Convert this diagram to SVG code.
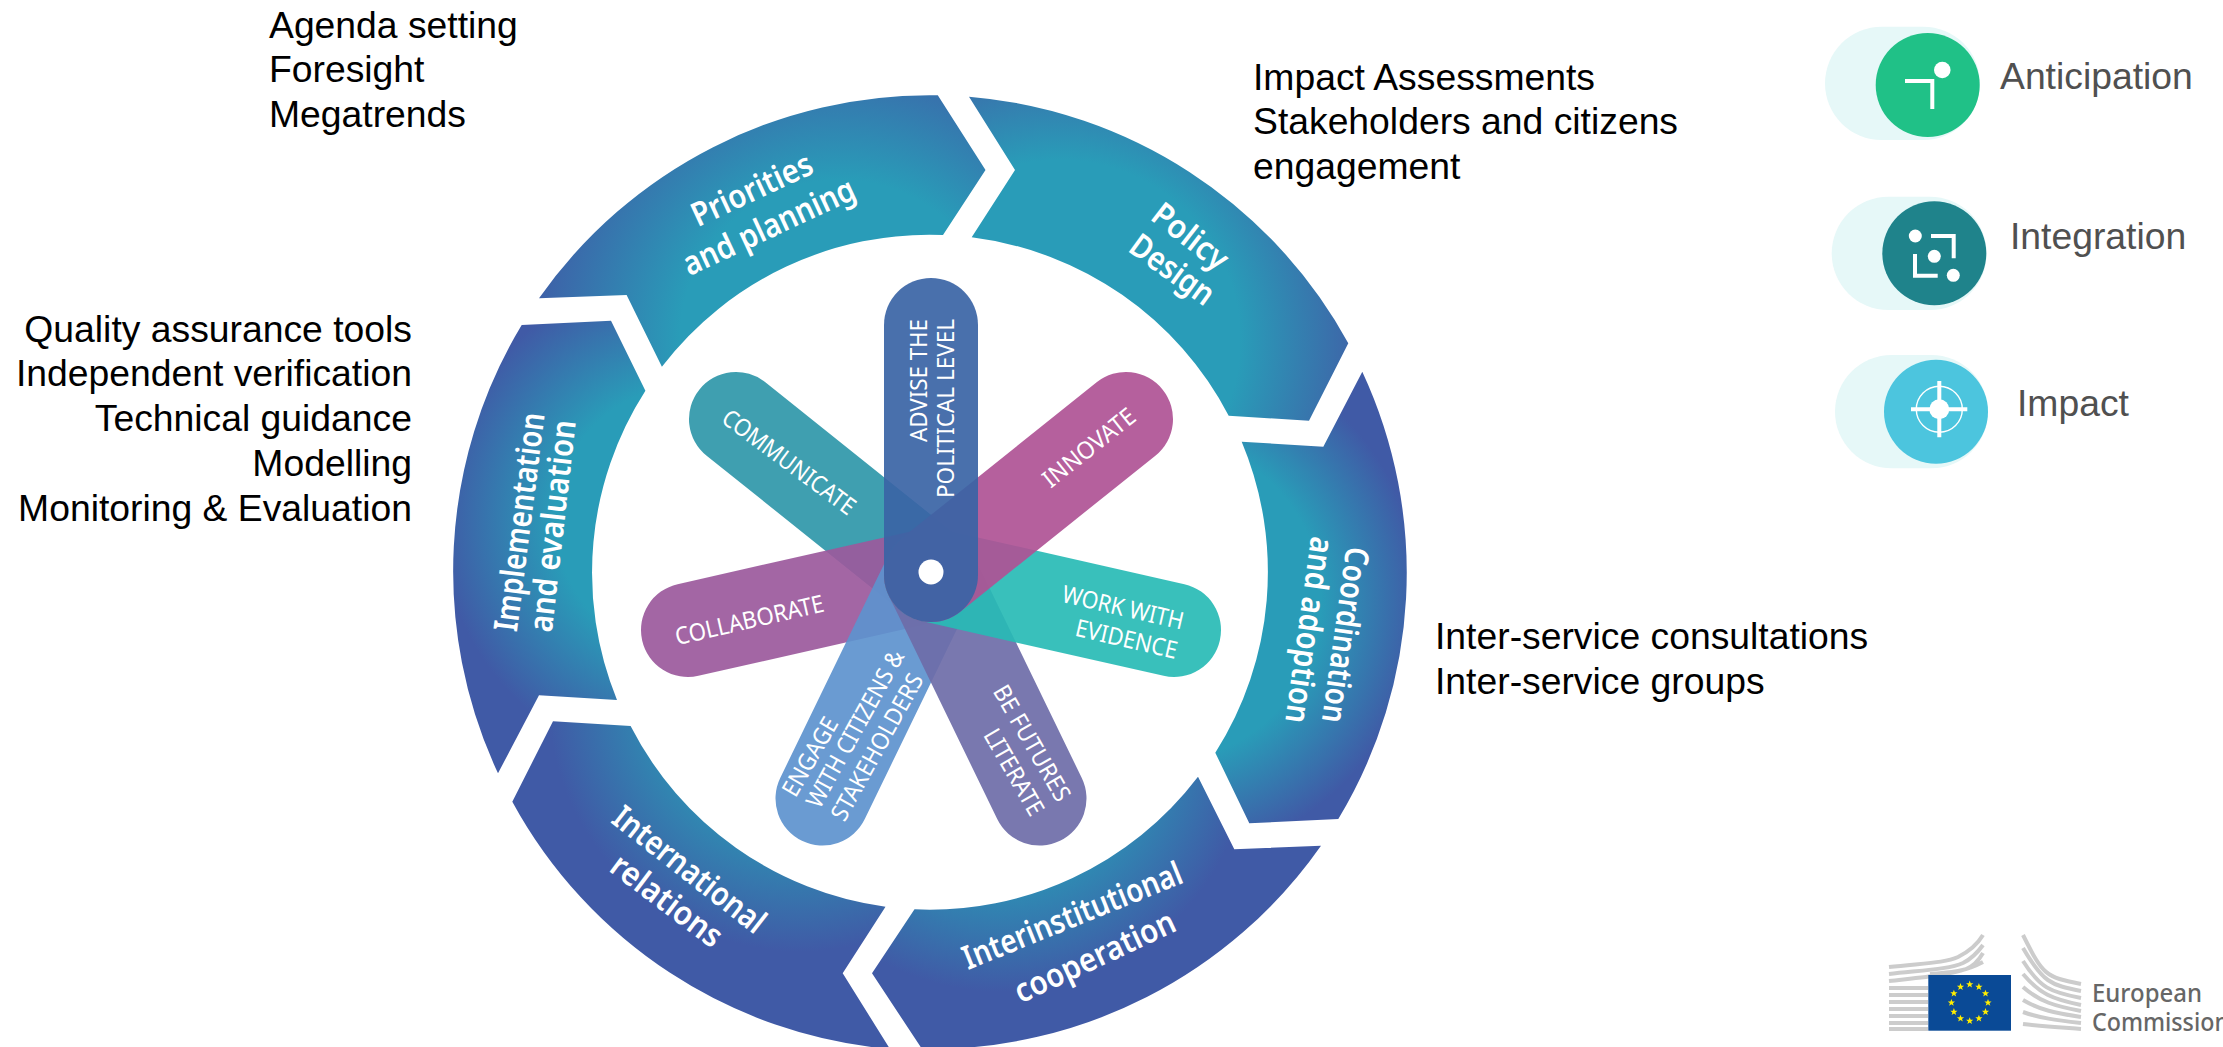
<svg xmlns="http://www.w3.org/2000/svg" xmlns:xlink="http://www.w3.org/1999/xlink" width="2223" height="1047" viewBox="0 0 2223 1047">
<style>
text{font-family:"Liberation Sans",Arial,sans-serif}
.note{font-size:37.3px;fill:#000}
.legend{font-size:37.3px;fill:#505050}
.ring{font-family:"Noto Sans",sans-serif;font-size:33px;font-weight:600;fill:#fff;text-anchor:middle}
.pet{font-family:"Noto Sans",sans-serif;font-size:24px;fill:#fff;text-anchor:middle}
.petal{fill:none;stroke-width:94;stroke-linecap:round;opacity:.92}
.pill{fill:#e6f8f8}
.ico{fill:none;stroke:#fff;stroke-width:4}
.dot{fill:#fff}
.st{fill:none;stroke:#cccccc;stroke-width:4}
.logo{font-family:"Noto Sans",sans-serif;font-size:24.5px;font-weight:500;fill:#666}
.star{fill:#ffed00}
</style>
<defs>
<radialGradient id="gPri" gradientUnits="userSpaceOnUse" cx="840" cy="340" r="320"><stop offset=".5" stop-color="#299cb8"/><stop offset="1" stop-color="#405aa6"/></radialGradient>
<radialGradient id="gPol" gradientUnits="userSpaceOnUse" cx="1060" cy="340" r="300"><stop offset=".6" stop-color="#299cb8"/><stop offset="1" stop-color="#3f62a7"/></radialGradient>
<radialGradient id="gCoo" gradientUnits="userSpaceOnUse" cx="1160" cy="600" r="260"><stop offset=".62" stop-color="#299cb8"/><stop offset="1" stop-color="#405aa6"/></radialGradient>
<radialGradient id="gInt" gradientUnits="userSpaceOnUse" cx="1000" cy="740" r="340"><stop offset=".38" stop-color="#2b95b6"/><stop offset=".74" stop-color="#405aa6"/></radialGradient>
<radialGradient id="gRel" gradientUnits="userSpaceOnUse" cx="800" cy="700" r="340"><stop offset=".4" stop-color="#2e8fb3"/><stop offset=".74" stop-color="#405aa6"/></radialGradient>
<radialGradient id="gImp" gradientUnits="userSpaceOnUse" cx="690" cy="520" r="320"><stop offset=".42" stop-color="#299cb8"/><stop offset=".78" stop-color="#405aa6"/></radialGradient>
<polygon id="s" class="star" points="0,-3.8 1,-1.2 3.6,-1.2 1.5,.5 2.3,3.1 0,1.5 -2.3,3.1 -1.5,.5 -3.6,-1.2 -1,-1.2"/>
</defs>

<g id="note-agenda" class="note"><text x="269" y="37.5">Agenda setting</text><text x="269" y="82">Foresight</text><text x="269" y="126.5">Megatrends</text></g>
<g id="note-impact" class="note"><text x="1253" y="90">Impact Assessments</text><text x="1253" y="134.3">Stakeholders and citizens</text><text x="1253" y="179">engagement</text></g>
<g id="note-quality" class="note" text-anchor="end"><text x="412" y="341.5">Quality assurance tools</text><text x="412" y="386.4">Independent verification</text><text x="412" y="431">Technical guidance</text><text x="412" y="476">Modelling</text><text x="412" y="520.7">Monitoring &amp; Evaluation</text></g>
<g id="note-inter" class="note"><text x="1435" y="649">Inter-service consultations</text><text x="1435" y="693.5">Inter-service groups</text></g>

<g id="seg-priorities"><path fill="url(#gPri)" d="M539,298.3A477,477 0 0 1 937.8,95.3L985.5,170L943,235A337,337 0 0 0 661.9,366.7L626.6,295Z"/>
<text class="ring" transform="translate(752,190) rotate(-25)" dy=".33em" textLength="130" lengthAdjust="spacingAndGlyphs">Priorities</text>
<text class="ring" transform="translate(769,227) rotate(-25)" dy=".33em" textLength="186" lengthAdjust="spacingAndGlyphs">and planning</text></g>
<g id="seg-policy"><path fill="url(#gPol)" d="M969,96.7A477,477 0 0 1 1348.3,343.3L1309,420.7L1228.7,415.7A337,337 0 0 0 971.7,237.3L1015,170Z"/>
<text class="ring" transform="translate(1190,237) rotate(38)" dy=".33em" textLength="87" lengthAdjust="spacingAndGlyphs">Policy</text>
<text class="ring" transform="translate(1172,270) rotate(36)" dy=".33em" textLength="96" lengthAdjust="spacingAndGlyphs">Design</text></g>
<g id="seg-coordination"><path fill="url(#gCoo)" d="M1362.3,371.7A477,477 0 0 1 1338.3,819L1249.3,823.3L1215.3,752.7A337,337 0 0 0 1241.7,441.7L1323.3,446.7Z"/>
<text class="ring" transform="translate(1345,635) rotate(98)" dy=".33em" textLength="177" lengthAdjust="spacingAndGlyphs">Coordination</text>
<text class="ring" transform="translate(1309,630) rotate(98)" dy=".33em" textLength="188" lengthAdjust="spacingAndGlyphs">and adoption</text></g>
<g id="seg-interinstitutional"><path fill="url(#gInt)" d="M1321,845.7A477,477 0 0 1 922,1049L872,973.3L914.5,909.3A337,337 0 0 0 1198,776.7L1234.3,849.3Z"/>
<text class="ring" transform="translate(1072.5,916) rotate(-22)" dy=".33em" textLength="234" lengthAdjust="spacingAndGlyphs">Interinstitutional</text>
<text class="ring" transform="translate(1095,957) rotate(-25)" dy=".33em" textLength="174" lengthAdjust="spacingAndGlyphs">cooperation</text></g>
<g id="seg-international"><path fill="url(#gRel)" d="M890,1049A477,477 0 0 1 512.3,801.7L553,721.3L630.6,726A337,337 0 0 0 885.5,906.7L842.7,973.3Z"/>
<text class="ring" transform="translate(689,870) rotate(38)" dy=".33em" textLength="184" lengthAdjust="spacingAndGlyphs">International</text>
<text class="ring" transform="translate(666.5,901) rotate(37)" dy=".33em" textLength="131" lengthAdjust="spacingAndGlyphs">relations</text></g>
<g id="seg-implementation"><path fill="url(#gImp)" d="M498,773.3A477,477 0 0 1 521.7,325L611,320.7L645.4,390.7A337,337 0 0 0 617,700L539,695.3Z"/>
<text class="ring" transform="translate(520,522) rotate(-82.7)" dy=".33em" textLength="220" lengthAdjust="spacingAndGlyphs">Implementation</text>
<text class="ring" transform="translate(553,526) rotate(-83.5)" dy=".33em" textLength="213" lengthAdjust="spacingAndGlyphs">and evaluation</text></g>

<g id="petal-communicate"><line class="petal" stroke="#2f97a9" x1="931" y1="575" x2="736" y2="419"/></g>
<g id="petal-collaborate"><line class="petal" stroke="#9b599c" x1="931" y1="575" x2="688" y2="630"/></g>
<g id="petal-engage"><line class="petal" stroke="#5d92ce" x1="931" y1="575" x2="822.5" y2="798.5"/></g>
<g id="petal-futures"><line class="petal" stroke="#6e6da8" x1="931" y1="575" x2="1039.5" y2="798.5"/></g>
<g id="petal-work"><line class="petal" stroke="#28bbb5" x1="931" y1="575" x2="1174" y2="630"/></g>
<g id="petal-innovate"><line class="petal" stroke="#af5395" x1="931" y1="575" x2="1126" y2="419"/></g>
<g id="petal-advise"><line class="petal" stroke="#3a64a5" x1="931" y1="575" x2="931" y2="325"/><circle class="dot" cx="931" cy="572" r="12.5"/></g>
<g id="petal-labels">
<text class="pet" transform="translate(789,462) rotate(36.5)" dy=".35em" textLength="159" lengthAdjust="spacingAndGlyphs">COMMUNICATE</text>
<text class="pet" transform="translate(1089,447.5) rotate(-38.5)" dy=".35em" textLength="111" lengthAdjust="spacingAndGlyphs">INNOVATE</text>
<text class="pet" transform="translate(749.5,620) rotate(-13)" dy=".35em" textLength="152" lengthAdjust="spacingAndGlyphs">COLLABORATE</text>
<text class="pet" transform="translate(1123,607.5) rotate(13)" dy=".35em" textLength="124" lengthAdjust="spacingAndGlyphs">WORK WITH</text>
<text class="pet" transform="translate(1126.5,639) rotate(13)" dy=".35em" textLength="104" lengthAdjust="spacingAndGlyphs">EVIDENCE</text>
<text class="pet" transform="translate(810,756.7) rotate(-60)" dy=".35em" textLength="87" lengthAdjust="spacingAndGlyphs">ENGAGE</text>
<text class="pet" transform="translate(855,728.8) rotate(-61)" dy=".35em" textLength="176" lengthAdjust="spacingAndGlyphs">WITH CITIZENS &amp;</text>
<text class="pet" transform="translate(877,747) rotate(-61)" dy=".35em" textLength="164" lengthAdjust="spacingAndGlyphs">STAKEHOLDERS</text>
<text class="pet" transform="translate(1032,743) rotate(60)" dy=".35em" textLength="130" lengthAdjust="spacingAndGlyphs">BE FUTURES</text>
<text class="pet" transform="translate(1014,772) rotate(60)" dy=".35em" textLength="96" lengthAdjust="spacingAndGlyphs">LITERATE</text>
<text class="pet" style="text-anchor:end" transform="translate(927,319) rotate(-90)" textLength="123" lengthAdjust="spacingAndGlyphs">ADVISE THE</text>
<text class="pet" style="text-anchor:end" transform="translate(954,319) rotate(-90)" textLength="179" lengthAdjust="spacingAndGlyphs">POLITICAL LEVEL</text>
</g>

<g id="legend-anticipation"><rect class="pill" x="1825" y="26.7" width="155" height="113.3" rx="56.7"/><circle cx="1927.7" cy="85" r="52" fill="#20c187"/><path class="ico" d="M1905,81H1932.3V109"/><circle class="dot" cx="1942.3" cy="70" r="8.3"/><text class="legend" x="2000" y="89">Anticipation</text></g>
<g id="legend-integration"><rect class="pill" x="1831.7" y="196.7" width="155" height="113.3" rx="56.7"/><circle cx="1934.3" cy="253.3" r="52" fill="#1f838b"/><path class="ico" d="M1931,236H1953.7V258.3M1915,254V275.7H1937.7"/><circle class="dot" cx="1915.3" cy="236" r="6.5"/><circle class="dot" cx="1934.3" cy="256.3" r="6.5"/><circle class="dot" cx="1953.3" cy="275.3" r="6.5"/><text class="legend" x="2010" y="249.3">Integration</text></g>
<g id="legend-impact"><rect class="pill" x="1835" y="355" width="153" height="113.3" rx="56.7"/><circle cx="1936" cy="411.7" r="52" fill="#4cc5de"/><path class="ico" d="M1911,409.3H1967.3M1939.3,381V437.3"/><circle fill="none" stroke="#fff" stroke-width="1.4" cx="1939.3" cy="409.3" r="23"/><circle class="dot" cx="1939.3" cy="409.3" r="10"/><text class="legend" x="2017" y="415.7">Impact</text></g>

<g id="logo">
<path class="st" d="M1889,967C1925,963 1945,963 1958,957C1970,951 1977,945 1983,935M1889,974C1925,970 1950,969 1963,963C1973,958 1978,952 1983,945M1889,981C1925,977 1950,975 1966,969C1974,966 1979,960 1983,953M1930,974C1950,972 1962,973 1983,962"/>
<path class="st" d="M1889,988H1928M1889,995H1928M1889,1002H1928M1889,1009H1928M1889,1016H1928M1889,1023H1928M1889,1029H1928"/>
<path class="st" d="M2023,935C2043,975 2045,977 2081,984M2023,948C2043,982 2050,985 2081,991M2023,961C2040,988 2050,992 2081,998M2023,974C2040,994 2052,999 2081,1005M2023,987C2040,1002 2055,1006 2081,1011M2023,1000C2040,1010 2055,1013 2081,1017M2023,1012C2040,1018 2055,1020 2081,1023M2023,1024C2040,1026 2055,1027 2081,1029"/>
<rect x="1928.3" y="975" width="82.7" height="55.7" fill="#0a4a96"/>
<use xlink:href="#s" href="#s" x="1969.7" y="984.4"/><use xlink:href="#s" href="#s" x="1978.9" y="986.9"/><use xlink:href="#s" href="#s" x="1985.5" y="993.5"/><use xlink:href="#s" href="#s" x="1988" y="1002.7"/><use xlink:href="#s" href="#s" x="1985.5" y="1011.9"/><use xlink:href="#s" href="#s" x="1978.9" y="1018.5"/><use xlink:href="#s" href="#s" x="1969.7" y="1021"/><use xlink:href="#s" href="#s" x="1960.5" y="1018.5"/><use xlink:href="#s" href="#s" x="1953.9" y="1011.9"/><use xlink:href="#s" href="#s" x="1951.4" y="1002.7"/><use xlink:href="#s" href="#s" x="1953.9" y="993.5"/><use xlink:href="#s" href="#s" x="1960.5" y="986.9"/>
<text class="logo" x="2092" y="1001.7" textLength="110" lengthAdjust="spacingAndGlyphs">European</text><text class="logo" x="2092" y="1030.7" textLength="137" lengthAdjust="spacingAndGlyphs">Commission</text>
</g>
</svg>
